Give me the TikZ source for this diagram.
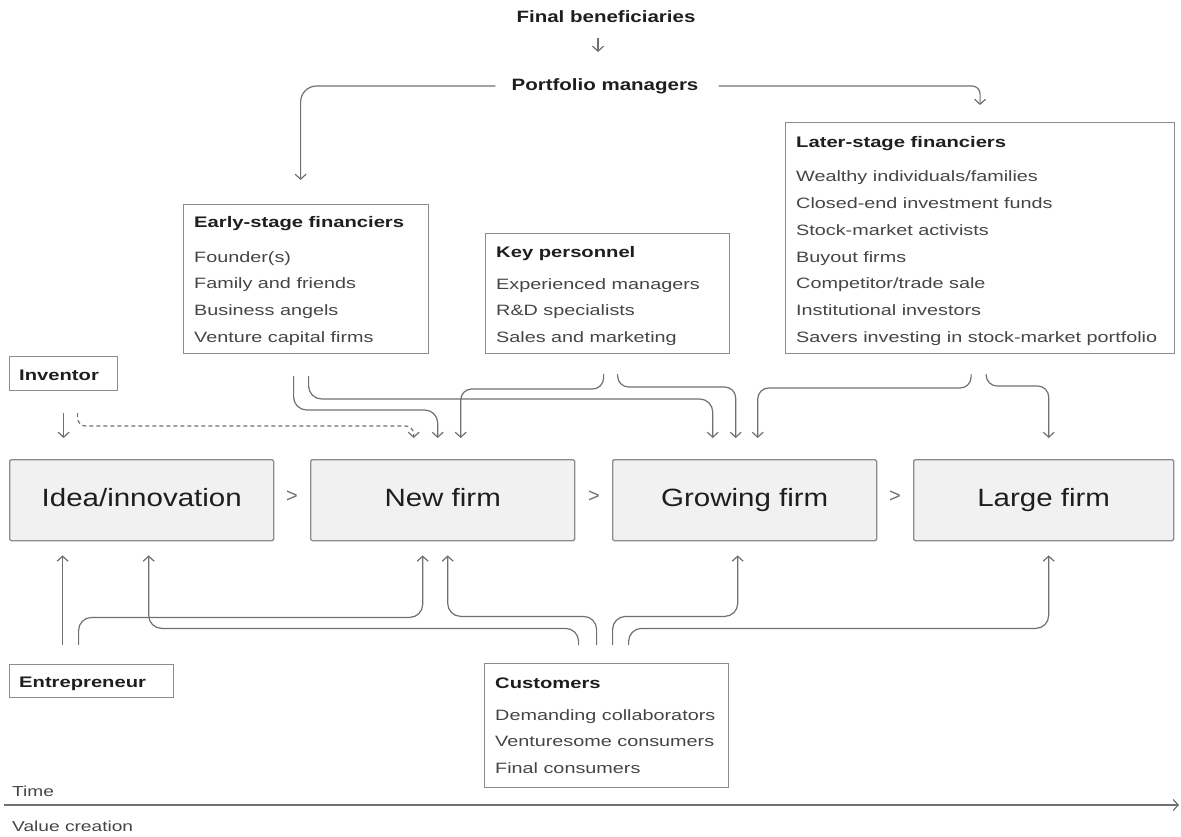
\documentclass[tikz,border=0pt]{standalone}
\usepackage{fontspec}
\setmainfont{Liberation Sans}
\newfontfamily\widef[FakeStretch=1.32]{Liberation Sans}
\newfontfamily\mainf[FakeStretch=1.18]{Liberation Sans}
\newfontfamily\topf[FakeStretch=1.25]{Liberation Sans}
\usetikzlibrary{arrows.meta,calc}
\definecolor{ln}{HTML}{707070}
\definecolor{bx}{HTML}{8C8C8C}
\definecolor{fillg}{HTML}{F1F1F1}
\definecolor{tx}{HTML}{1E1E1E}
\definecolor{itc}{HTML}{454545}
\tikzset{
  arr/.style={draw=ln, line width=1.2pt, -{Straight Barb[length=5pt,width=11pt]}, rounded corners=13pt},
  tbox/.style={draw=bx, line width=1.2pt, anchor=north west, inner sep=0pt},
  mbox/.style={draw=bx, line width=1.4pt, fill=fillg, anchor=north west, inner sep=0pt,
     minimum height=81pt, rounded corners=1.5pt, font=\mainf\fontsize{25}{28}\selectfont, text=tx,
     text height=18pt, text depth=5pt},
  ttl/.style={font=\widef\bfseries\fontsize{15.3}{18}\selectfont, text=tx, anchor=base west, inner sep=0pt},
  itm/.style={font=\widef\fontsize{15}{18}\selectfont, text=itc, anchor=base west, inner sep=0pt},
  toplbl/.style={font=\topf\bfseries\fontsize{16.4}{20}\selectfont, text=tx, inner sep=0pt},
  sepmark/.style={font=\fontsize{20}{22}\selectfont, text=ln, inner sep=0pt},
  axlbl/.style={font=\widef\fontsize{14.5}{16}\selectfont, text=itc, anchor=base west, inner sep=0pt}
}
\begin{document}
\begin{tikzpicture}[x=1pt,y=-1pt]
\useasboundingbox (0,0) rectangle (1181,837);

% top labels
\node[toplbl] (fb) at (606,17) {Final beneficiaries};
\node[toplbl] (pm) at (605,86) {Portfolio managers};

% text boxes
\node[tbox, minimum width=245pt, minimum height=149pt] (early) at (183,204) {};
\node[tbox, minimum width=244pt, minimum height=120pt] (key) at (485,233) {};
\node[tbox, minimum width=389pt, minimum height=231pt] (later) at (785,122) {};
\node[tbox, minimum width=108pt, minimum height=34pt] (inv) at (9,356) {};
\node[tbox, minimum width=164pt, minimum height=33pt] (ent) at (9,664) {};
\node[tbox, minimum width=244pt, minimum height=124pt] (cust) at (484,663) {};

% texts in boxes
\node[ttl] (earlyT) at (194,228) {Early-stage financiers};
\foreach \t [count=\i] in {Founder(s), Family and friends, Business angels, Venture capital firms}
  \node[itm] (early\i) at (194,{262+26.67*(\i-1)}) {\t};

\node[ttl] (keyT) at (496,258) {Key personnel};
\foreach \t [count=\i] in {Experienced managers, R\&D specialists, Sales and marketing}
  \node[itm] (key\i) at (496,{289+26.5*(\i-1)}) {\t};

\node[ttl] (laterT) at (796,148) {Later-stage financiers};
\foreach \t [count=\i] in {Wealthy individuals/families, Closed-end investment funds, Stock-market activists, Buyout firms, Competitor/trade sale, Institutional investors, Savers investing in stock-market portfolio}
  \node[itm] (later\i) at (796,{182+26.67*(\i-1)}) {\t};

\node[ttl] (custT) at (495,688) {Customers};
\foreach \t [count=\i] in {Demanding collaborators, Venturesome consumers, Final consumers}
  \node[itm] (cust\i) at (495,{720+26.5*(\i-1)}) {\t};

\node[ttl] (invT) at (19,380) {Inventor};
\node[ttl] (entT) at (19,687) {Entrepreneur};

% main stages
\node[mbox, minimum width=264pt] (idea) at (9,459) {Idea/innovation};
\node[mbox, minimum width=264pt] (newf) at (310,459) {New firm};
\node[mbox, minimum width=264pt] (grow) at (612,459) {Growing firm};
\node[mbox, minimum width=260pt] (large) at (913,459) {Large firm};

\node[sepmark] (s1) at (292,497) {>};
\node[sepmark] (s2) at (594,497) {>};
\node[sepmark] (s3) at (895,497) {>};

% top connectors
\draw[arr] ($(fb.center)+(-8,21)$) -- ($(fb.center)+(-8,35)$);
\draw[arr, rounded corners=16pt] ($(pm.west)+(-16,0)$) -| ($(early.north)+(-5.5,-24)$);
\draw[arr, rounded corners=8pt] ($(pm.east)+(20,0)$) -| ($(later.north)+(0,-17)$);

% inventor
\draw[arr] ($(inv.south)+(0,22)$) -- ($(inv.south |- idea.north)+(0,-21)$);
\coordinate (dtip) at ($(newf.north)+(-29,-21)$);
\draw[arr, dash pattern=on 4pt off 3pt, rounded corners=8pt] ($(inv.south)+(14,22)$) |- ($(dtip)+(0,-12)$) -- (dtip);

% financiers and personnel to firms
\coordinate (n1) at ($(newf.north)+(-5,-21)$);
\draw[arr] ($(early.south)+(-12.5,22)$) |- ($(n1)+(0,-28)$) -- (n1);
\coordinate (g1) at ($(grow.north)+(-32,-21)$);
\draw[arr] ($(early.south)+(2.5,22)$) |- ($(g1)+(0,-39)$) -- (g1);
\coordinate (n2) at ($(newf.north)+(18,-21)$);
\draw[arr, rounded corners=11pt] ($(key.south)+(-4,20)$) |- ($(n2)+(0,-49)$) -- (n2);
\coordinate (g2) at ($(grow.north)+(-9,-21)$);
\draw[arr, rounded corners=11pt] ($(key.south)+(10,20)$) |- ($(g2)+(0,-51)$) -- (g2);
\coordinate (g3) at ($(grow.north)+(13,-21)$);
\draw[arr, rounded corners=11pt] ($(later.south)+(-9,20)$) |- ($(g3)+(0,-50)$) -- (g3);
\coordinate (l1) at ($(large.north)+(5,-21)$);
\draw[arr, rounded corners=11pt] ($(later.south)+(6,20)$) |- ($(l1)+(0,-52)$) -- (l1);

% bottom connectors
\draw[arr] ($(ent.north)+(-29,-19)$) -- ($(ent.north |- idea.south)+(-29,14)$);
\coordinate (n3) at ($(newf.south)+(-20,14)$);
\draw[arr] ($(ent.north)+(-13,-19)$) |- ($(n3)+(0,62)$) -- (n3);
\coordinate (i2) at ($(idea.south)+(7,14)$);
\draw[arr] ($(cust.north)+(-28,-18)$) |- ($(i2)+(0,73)$) -- (i2);
\coordinate (n4) at ($(newf.south)+(5,14)$);
\draw[arr] ($(cust.north)+(-10,-18)$) |- ($(n4)+(0,61)$) -- (n4);
\coordinate (g4) at ($(grow.south)+(-7,14)$);
\draw[arr] ($(cust.north)+(6,-18)$) |- ($(g4)+(0,61)$) -- (g4);
\coordinate (l2) at ($(large.south)+(5,14)$);
\draw[arr] ($(cust.north)+(22,-18)$) |- ($(l2)+(0,73)$) -- (l2);

% time axis
\coordinate (ax0) at (4,805);
\coordinate (ax1) at (1179,805);
\draw[arr] (ax0) -- (ax1);
\node[axlbl] (timeL) at (12,796) {Time};
\node[axlbl] (valL) at (12,831) {Value creation};
\end{tikzpicture}
\end{document}
